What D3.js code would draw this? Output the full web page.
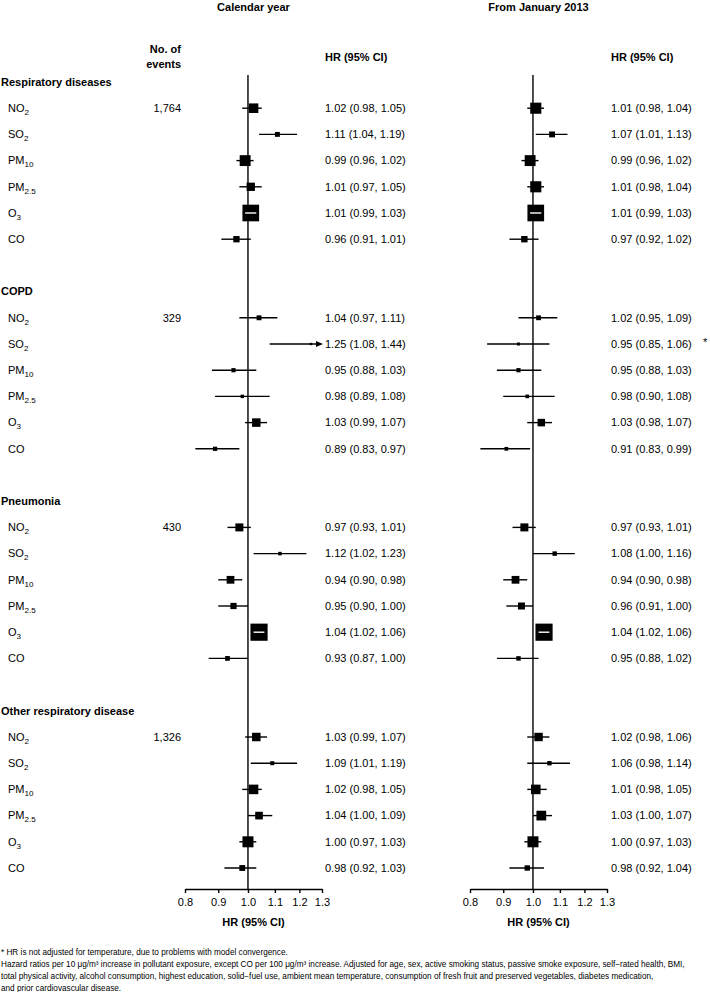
<!DOCTYPE html>
<html>
<head>
<meta charset="utf-8">
<script src="https://cdn.jsdelivr.net/npm/d3@7"></script>
<style>
  html, body { margin: 0; padding: 0; background: #fff; }
  svg { display: block; font-family: "Liberation Sans", Arial, Helvetica, sans-serif; }
</style>
</head>
<body>
<svg id="chart" width="710" height="992"></svg>
<script>
// ---------------- DATA ----------------
const groups = ["Respiratory diseases", "COPD", "Pneumonia", "Other respiratory disease"];
const events = ["1,764", "329", "430", "1,326"];
const pollutantBase = ["NO", "SO", "PM", "PM", "O", "CO"];
const pollutantSub  = ["2", "2", "10", "2.5", "3", ""];

const panelTitles = ["Calendar year", "From January 2013"];
const tickValues = [0.8, 0.9, 1.0, 1.1, 1.2, 1.3];

// Calendar year
const calHR = [
  [1.02, 1.11, 0.99, 1.01, 1.01, 0.96],
  [1.04, 1.25, 0.95, 0.98, 1.03, 0.89],
  [0.97, 1.12, 0.94, 0.95, 1.04, 0.93],
  [1.03, 1.09, 1.02, 1.04, 1.00, 0.98]
];
const calLo = [
  [0.98, 1.04, 0.96, 0.97, 0.99, 0.91],
  [0.97, 1.08, 0.88, 0.89, 0.99, 0.83],
  [0.93, 1.02, 0.90, 0.90, 1.02, 0.87],
  [0.99, 1.01, 0.98, 1.00, 0.97, 0.92]
];
const calHi = [
  [1.05, 1.19, 1.02, 1.05, 1.03, 1.01],
  [1.11, 1.44, 1.03, 1.08, 1.07, 0.97],
  [1.01, 1.23, 0.98, 1.00, 1.06, 1.00],
  [1.07, 1.19, 1.05, 1.09, 1.03, 1.03]
];
// From January 2013
const janHR = [
  [1.01, 1.07, 0.99, 1.01, 1.01, 0.97],
  [1.02, 0.95, 0.95, 0.98, 1.03, 0.91],
  [0.97, 1.08, 0.94, 0.96, 1.04, 0.95],
  [1.02, 1.06, 1.01, 1.03, 1.00, 0.98]
];
const janLo = [
  [0.98, 1.01, 0.96, 0.98, 0.99, 0.92],
  [0.95, 0.85, 0.88, 0.90, 0.98, 0.83],
  [0.93, 1.00, 0.90, 0.91, 1.02, 0.88],
  [0.98, 0.98, 0.98, 1.00, 0.97, 0.92]
];
const janHi = [
  [1.04, 1.13, 1.02, 1.04, 1.03, 1.02],
  [1.09, 1.06, 1.03, 1.08, 1.07, 0.99],
  [1.01, 1.16, 0.98, 1.00, 1.06, 1.02],
  [1.06, 1.14, 1.05, 1.07, 1.03, 1.04]
];
const janFlag = [
  ["", "", "", "", "", ""],
  ["", "*", "", "", "", ""],
  ["", "", "", "", "", ""],
  ["", "", "", "", "", ""]
];
const calFlag = [
  ["", "", "", "", "", ""],
  ["", "", "", "", "", ""],
  ["", "", "", "", "", ""],
  ["", "", "", "", "", ""]
];

const footnotes = [
  "* HR is not adjusted for temperature, due to problems with model convergence.",
  "Hazard ratios per 10 \u03bcg/m\u00b3 increase in pollutant exposure, except CO per 100 \u03bcg/m\u00b3 increase. Adjusted for age, sex, active smoking status, passive smoke exposure, self\u2212rated health, BMI,",
  "total physical activity, alcohol consumption, highest education, solid\u2212fuel use, ambient mean temperature, consumption of fresh fruit and preserved vegetables, diabetes medication,",
  "and prior cardiovascular disease."
];

// ---------------- LAYOUT ----------------
const svg = d3.select("#chart");
const FS = 11;
const rowY = d3.scaleLinear().domain([0, 30]).range([82, 868]);
const axisY = 889;
const lineTop = 75;

const panels = [
  { title: panelTitles[0], hr: calHR, lo: calLo, hi: calHi, flag: calFlag,
    x: d3.scaleLog().domain([0.8, 1.3]).range([185, 322]), textX: 325 },
  { title: panelTitles[1], hr: janHR, lo: janLo, hi: janHi, flag: janFlag,
    x: d3.scaleLog().domain([0.8, 1.3]).range([470, 607]), textX: 611 }
];

// box size proportional to precision (1 / log CI width)
const boxSize = d3.scaleLinear().domain([0, 1]).range([0, 0.66]);
const fmt = d3.format(".2f");

// Left label column
svg.append("text").attr("x", 181).attr("y", 49).attr("dy", "0.35em")
  .attr("text-anchor", "end").attr("font-weight", "bold").attr("font-size", FS).text("No. of");
svg.append("text").attr("x", 181).attr("y", 64).attr("dy", "0.35em")
  .attr("text-anchor", "end").attr("font-weight", "bold").attr("font-size", FS).text("events");

groups.forEach((g, gi) => {
  const base = gi * 8;
  svg.append("text").attr("x", 1).attr("y", rowY(base)).attr("dy", "0.35em")
    .attr("font-weight", "bold").attr("font-size", FS).text(g);
  pollutantBase.forEach((p, pi) => {
    const t = svg.append("text").attr("x", 8).attr("y", rowY(base + 1 + pi)).attr("dy", "0.35em")
      .attr("font-size", FS);
    t.append("tspan").text(p);
    if (pollutantSub[pi]) {
      t.append("tspan").attr("font-size", 8).attr("dy", 3).text(pollutantSub[pi]);
    }
  });
  svg.append("text").attr("x", 181).attr("y", rowY(base + 1)).attr("dy", "0.35em")
    .attr("text-anchor", "end").attr("font-size", FS).text(events[gi]);
});

// Panels
panels.forEach(P => {
  const x = P.x;
  const [r0, r1] = x.range();
  const cx = (r0 + r1) / 2;
  const gP = svg.append("g");

  gP.append("text").attr("x", cx).attr("y", 7).attr("dy", "0.35em")
    .attr("text-anchor", "middle").attr("font-weight", "bold").attr("font-size", FS).text(P.title);
  gP.append("text").attr("x", P.textX).attr("y", 57).attr("dy", "0.35em")
    .attr("font-weight", "bold").attr("font-size", FS).text("HR (95% CI)");

  // reference line at 1
  gP.append("line").attr("x1", x(1)).attr("x2", x(1)).attr("y1", lineTop).attr("y2", axisY)
    .attr("stroke", "#000").attr("stroke-width", 1.4);

  // axis
  const ax = d3.axisBottom(x).tickValues(tickValues).tickFormat(d3.format(".1f"))
    .tickSize(4).tickSizeOuter(0).tickPadding(5);
  const gA = gP.append("g").attr("transform", `translate(0,${axisY})`).call(ax);
  gA.select(".domain").attr("stroke-width", 1.4);
  gA.selectAll(".tick line").attr("stroke-width", 1.4);
  gA.selectAll("text").attr("font-size", FS).attr("font-family", "Liberation Sans, Arial, sans-serif");
  gP.append("text").attr("x", cx).attr("y", axisY + 33).attr("dy", "0.35em")
    .attr("text-anchor", "middle").attr("font-weight", "bold").attr("font-size", FS).text("HR (95% CI)");

  const maxV = x.domain()[1];
  groups.forEach((g, gi) => {
    pollutantBase.forEach((p, pi) => {
      const y = rowY(gi * 8 + 1 + pi);
      const hr = P.hr[gi][pi], lo = P.lo[gi][pi], hi = P.hi[gi][pi];
      const xl = x(lo), xh = x(Math.min(hi, maxV)), xm = x(hr);
      const s = boxSize(1 / Math.log(hi / lo));
      // CI line
      gP.append("line").attr("x1", xl).attr("x2", hi > maxV ? xh - 4 : xh)
        .attr("y1", y).attr("y2", y).attr("stroke", "#000").attr("stroke-width", 1.4);
      if (hi > maxV) {
        gP.append("path")
          .attr("d", `M${xh + 1},${y} L${xh - 6},${y - 3} L${xh - 6},${y + 3} Z`)
          .attr("fill", "#000");
      }
      // box
      gP.append("rect").attr("x", xm - s / 2).attr("y", y - s / 2)
        .attr("width", s).attr("height", s).attr("fill", "#000");
      // white CI line where contained within box
      if (xl >= xm - s / 2 && xh <= xm + s / 2) {
        gP.append("line").attr("x1", xl).attr("x2", xh).attr("y1", y).attr("y2", y)
          .attr("stroke", "#fff").attr("stroke-width", 1.4);
      }
      // text
      gP.append("text").attr("x", P.textX).attr("y", y).attr("dy", "0.35em").attr("font-size", FS)
        .text(`${fmt(hr)} (${fmt(lo)}, ${fmt(hi)})`);
      if (P.flag[gi][pi]) {
        gP.append("text").attr("x", 703).attr("y", y - 2).attr("dy", "0.35em").attr("font-size", FS)
          .text(P.flag[gi][pi]);
      }
    });
  });
});

// Footnotes
const footY = [952, 964.5, 976.5, 988];
footnotes.forEach((f, i) => {
  svg.append("text").attr("x", 1).attr("y", footY[i]).attr("dy", "0.35em")
    .attr("font-size", 8.2).text(f);
});
</script>
</body>
</html>
